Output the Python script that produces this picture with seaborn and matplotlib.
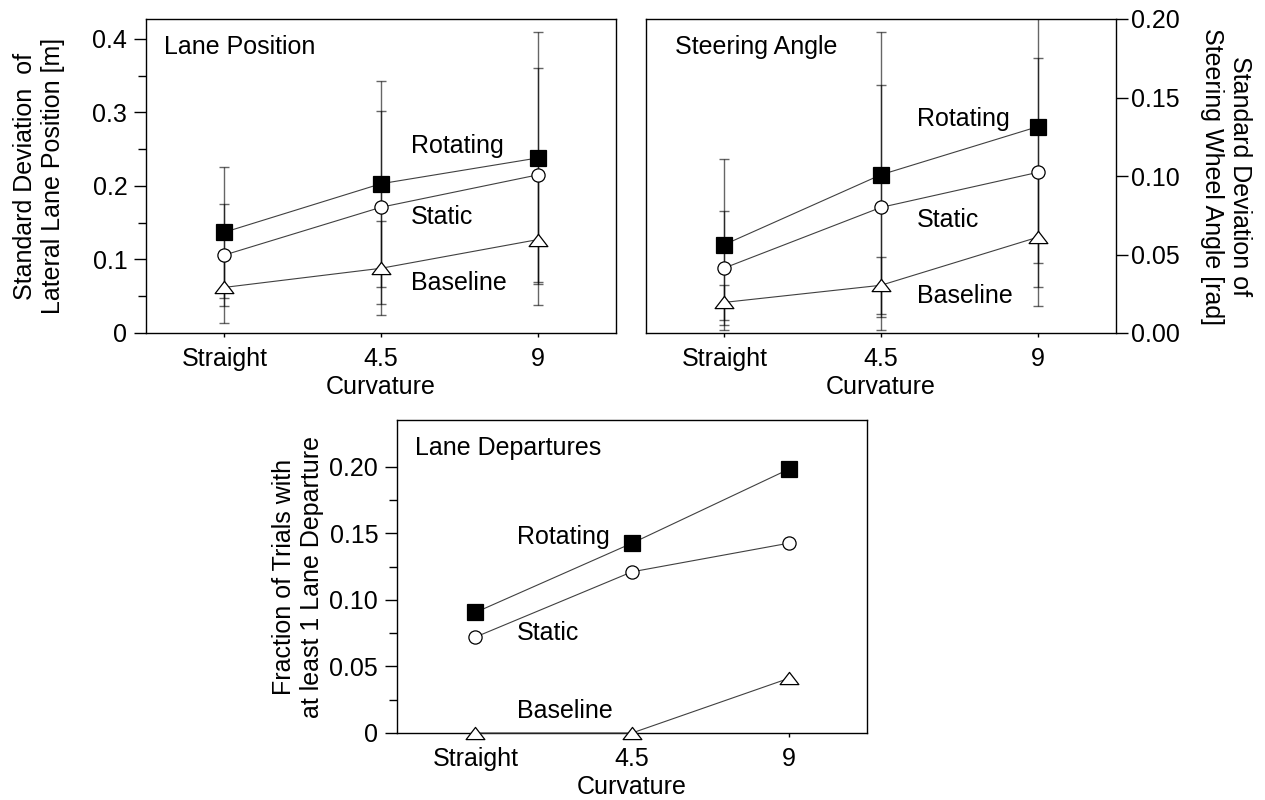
import numpy as np
import matplotlib
matplotlib.use("Agg")
import matplotlib.pyplot as plt
import seaborn as sns
from matplotlib.path import Path
from matplotlib.ticker import FixedLocator

curvature = ["Straight", "4.5", "9"]
conditions = ["Rotating", "Static", "Baseline"]

# SD of lateral lane position [m]
lane_rot = [0.137, 0.203, 0.238]
lane_sta = [0.106, 0.171, 0.215]
lane_base = [0.062, 0.088, 0.127]
lane_rot_err = [0.089, 0.140, 0.171]
lane_sta_err = [0.069, 0.131, 0.146]
lane_base_err = [0.049, 0.064, 0.089]

# SD of steering wheel angle [rad]
steer_rot = [0.0563, 0.1008, 0.1314]
steer_sta = [0.0414, 0.0800, 0.1023]
steer_base = [0.0195, 0.0304, 0.0610]
steer_rot_err = [0.0545, 0.0907, 0.0868]
steer_sta_err = [0.0365, 0.0782, 0.0729]
steer_base_err = [0.0110, 0.0182, 0.0440]

# fraction of trials with at least one lane departure
dep_rot = [0.0905, 0.1425, 0.198]
dep_sta = [0.072, 0.121, 0.1425]
dep_base = [0.0, 0.0, 0.041]

####figure settings####
sns.set_style("ticks")
plt.rcParams["font.family"] = ["Liberation Sans", "DejaVu Sans"]
plt.rcParams["font.size"] = 18
plt.rcParams["text.color"] = "black"
plt.rcParams["axes.labelcolor"] = "black"
plt.rcParams["axes.linewidth"] = 1.0
plt.rcParams["axes.edgecolor"] = "black"
plt.rcParams["xtick.color"] = "black"
plt.rcParams["ytick.color"] = "black"
plt.rcParams["xtick.labelsize"] = 18
plt.rcParams["ytick.labelsize"] = 18
plt.rcParams["axes.labelsize"] = 18

xpos = np.arange(len(curvature))
tri = Path([(-1, -0.65), (1, -0.65), (0, 0.65), (-1, -0.65)],
           [Path.MOVETO, Path.LINETO, Path.LINETO, Path.CLOSEPOLY])
mstyle = {
    "Rotating": dict(marker="s", markersize=11.5, markerfacecolor="black"),
    "Static": dict(marker="o", markersize=9.5, markerfacecolor="white"),
    "Baseline": dict(marker=tri, markersize=13.5, markerfacecolor="white"),
}


def draw_panel(ax, series, errors, labels_xy, title, title_x):
    for name, vals, err in zip(conditions, series, errors):
        if err is not None:
            ax.errorbar(xpos, vals, yerr=err, fmt="none", ecolor="black",
                        elinewidth=1.0, capsize=3.5, capthick=1.0,
                        alpha=0.6, zorder=1)
        sns.lineplot(x=xpos, y=vals, ax=ax, sort=False, errorbar=None,
                     color="0.25", linewidth=0.8, markeredgecolor="black",
                     markeredgewidth=0.9, zorder=3, clip_on=False,
                     **mstyle[name])
    for name, (tx, ty) in zip(conditions, labels_xy):
        ax.text(tx, ty, name, ha="left", va="center")
    ax.text(title_x, 0.91, title, transform=ax.transAxes, ha="left", va="center")
    ax.set_xlim(-0.5, 2.5)
    ax.set_xticks(xpos)
    ax.set_xticklabels(curvature)
    ax.set_xlabel("Curvature", labelpad=3)
    ax.tick_params(axis="x", length=3, width=1, pad=7)
    ax.tick_params(axis="y", which="major", length=8.5, width=1, pad=5)
    ax.tick_params(axis="y", which="minor", length=5.5, width=1)
    for s in ax.spines.values():
        s.set_visible(True)


fig = plt.figure(figsize=(12.65, 8), dpi=100)
W, H = 1265, 800
ax1 = fig.add_axes([146 / W, 1 - 333 / H, 470 / W, 314 / H])
ax2 = fig.add_axes([646 / W, 1 - 333 / H, 470 / W, 314 / H])
ax3 = fig.add_axes([397 / W, 1 - 733 / H, 470 / W, 313 / H])

# Lane position
draw_panel(ax1, [lane_rot, lane_sta, lane_base],
           [lane_rot_err, lane_sta_err, lane_base_err],
           [(1.19, 0.254), (1.19, 0.158), (1.19, 0.068)],
           "Lane Position", 0.038)
ax1.set_ylim(0, 0.427)
ax1.yaxis.set_major_locator(FixedLocator([0, 0.1, 0.2, 0.3, 0.4]))
ax1.set_yticklabels(["0", "0.1", "0.2", "0.3", "0.4"])
ax1.yaxis.set_minor_locator(FixedLocator([0.05, 0.15, 0.25, 0.35]))
ax1.set_ylabel("Standard Deviation  of\nLateral Lane Position [m]")
ax1.yaxis.set_label_coords(-0.172, 0.5)

# Steering angle
draw_panel(ax2, [steer_rot, steer_sta, steer_base],
           [steer_rot_err, steer_sta_err, steer_base_err],
           [(1.23, 0.1363), (1.23, 0.072), (1.23, 0.0236)],
           "Steering Angle", 0.062)
ax2.set_ylim(0, 0.20)
ax2.yaxis.tick_right()
ax2.yaxis.set_label_position("right")
ax2.yaxis.set_major_locator(FixedLocator([0, 0.05, 0.10, 0.15, 0.20]))
ax2.set_yticklabels(["0.00", "0.05", "0.10", "0.15", "0.20"])
ax2.tick_params(axis="y", pad=2.5)
ax2.set_ylabel("Standard Deviation of\nSteering Wheel Angle [rad]", rotation=-90, va="bottom")
ax2.yaxis.set_label_coords(1.179, 0.5)

# Lane departures
draw_panel(ax3, [dep_rot, dep_sta, dep_base], [None, None, None],
           [(0.263, 0.1474), (0.263, 0.0752), (0.263, 0.0162)],
           "Lane Departures", 0.038)
ax3.set_ylim(0, 0.235)
ax3.yaxis.set_major_locator(FixedLocator([0, 0.05, 0.10, 0.15, 0.20]))
ax3.set_yticklabels(["0", "0.05", "0.10", "0.15", "0.20"])
ax3.yaxis.set_minor_locator(FixedLocator([0.025, 0.075, 0.125, 0.175]))
ax3.set_ylabel("Fraction of Trials with\nat least 1 Lane Departure")
ax3.yaxis.set_label_coords(-0.155, 0.5)

plt.savefig("out.png", dpi=100)
